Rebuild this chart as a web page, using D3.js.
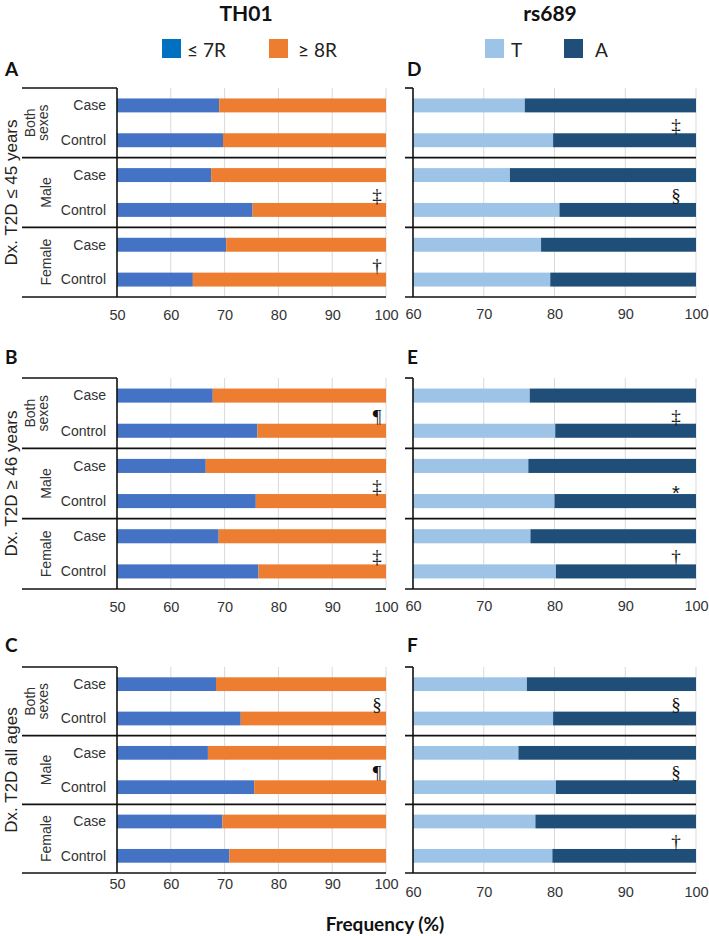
<!DOCTYPE html>
<html><head><meta charset="utf-8">
<script src="https://cdn.jsdelivr.net/npm/d3@7"></script>
<style>body{margin:0;background:#fff}</style>
</head><body>
<svg id="c" width="709" height="936"></svg>
<script>
// ---------- data ----------
const groups = ["Both sexes", "Male", "Female"];
const categories = ["Case", "Control"];
const th01Keys = ["≤ 7R", "≥ 8R"];
const rs689Keys = ["T", "A"];
const th01Ticks = [50, 60, 70, 80, 90, 100];
const rs689Ticks = [60, 70, 80, 90, 100];
const ageLabels = ["Dx. T2D ≤ 45 years", "Dx. T2D ≥ 46 years", "Dx. T2D all ages"];
const panelLetters = ["A", "B", "C", "D", "E", "F"];
const geneTitles = ["TH01", "rs689"];
const axisTitle = "Frequency (%)";

// rows: Both Case, Both Control, Male Case, Male Control, Female Case, Female Control
const A_le7 = [69.0, 69.7, 67.5, 75.2, 70.3, 64.1];
const A_ge8 = [31.0, 30.3, 32.5, 24.8, 29.7, 35.9];
const B_le7 = [67.8, 76.1, 66.5, 75.8, 68.9, 76.3];
const B_ge8 = [32.2, 23.9, 33.5, 24.2, 31.1, 23.7];
const C_le7 = [68.4, 73.0, 66.9, 75.5, 69.6, 70.9];
const C_ge8 = [31.6, 27.0, 33.1, 24.5, 30.4, 29.1];
const D_T = [75.8, 79.8, 73.7, 80.7, 78.1, 79.4];
const D_A = [24.2, 20.2, 26.3, 19.3, 21.9, 20.6];
const E_T = [76.5, 80.1, 76.3, 80.0, 76.6, 80.2];
const E_A = [23.5, 19.9, 23.7, 20.0, 23.4, 19.8];
const F_T = [76.1, 79.8, 74.9, 80.2, 77.3, 79.7];
const F_A = [23.9, 20.2, 25.1, 19.8, 22.7, 20.3];

// significance marks per group (Both sexes, Male, Female)
const A_sig = ["", "‡", "†"];
const B_sig = ["¶", "‡", "‡"];
const C_sig = ["§", "¶", ""];
const D_sig = ["‡", "§", ""];
const E_sig = ["‡", "*", "†"];
const F_sig = ["§", "§", "†"];

// ---------- styles / layout ----------
const th01Colors = ["#4472C4", "#ED7D31"];
const th01LegendColors = ["#0070C0", "#ED7D31"];
const rs689Colors = ["#9DC3E6", "#1F4E79"];
const SANS = "'Liberation Sans', Arial, sans-serif";
const TITLE = "Lato, 'Open Sans', sans-serif";
const SERIF = "'Liberation Serif', 'Times New Roman', serif";

const svg = d3.select("#c");

const rowsY = [[88, 297], [378, 589], [667, 873]];
const leftX = { x0: 117, x1: 386, frame: 22, sigOff: 9 };
const rightX = { x0: 413, x1: 696, frame: 405, sigOff: 20 };
const labelOff = [[18, 18, 11], [17, 17, 19]];

function panel(opts) {
  const { le, ri, sig, keys, colors, ticks, side, rowIdx, letter, showLabels } = opts;
  const X = side === 0 ? leftX : rightX;
  const [top, bottom] = rowsY[rowIdx];
  const g = svg.append("g");
  const x = d3.scaleLinear().domain([ticks[0], ticks[ticks.length - 1]]).range([X.x0, X.x1]).clamp(true);
  const rowIds = d3.range(6);
  const y = d3.scaleBand().domain(rowIds).range([top, bottom]).paddingInner(0.6).paddingOuter(0.3);
  const rows = rowIds.map(i => ({ id: i, [keys[0]]: le[i], [keys[1]]: ri[i] }));
  const stack = d3.stack().keys(keys)(rows);

  // gridlines
  g.append("g").selectAll("line").data(ticks.slice(1)).join("line")
    .attr("x1", d => x(d)).attr("x2", d => x(d))
    .attr("y1", top).attr("y2", bottom)
    .attr("stroke", "#d9d9d9").attr("stroke-width", 1);

  // bars
  g.append("g").selectAll("g").data(stack).join("g")
    .attr("fill", (d, i) => colors[i])
    .selectAll("rect").data(d => d).join("rect")
    .attr("x", d => x(d[0]))
    .attr("width", d => x(d[1]) - x(d[0]))
    .attr("y", d => y(d.data.id))
    .attr("height", y.bandwidth());

  // frame lines
  const groupH = (bottom - top) / 3;
  const lines = g.append("g").attr("stroke", "#111").attr("stroke-width", 1.6);
  lines.append("line").attr("x1", X.x0).attr("x2", X.x0).attr("y1", top).attr("y2", bottom);
  lines.append("line").attr("x1", X.frame).attr("x2", X.x0).attr("y1", top).attr("y2", top);
  [1, 2, 3].forEach(k => {
    const yy = top + groupH * k;
    lines.append("line").attr("x1", X.frame).attr("x2", X.x1).attr("y1", yy).attr("y2", yy);
  });

  // axis (tick labels only)
  const axis = d3.axisBottom(x).tickValues(ticks).tickSize(0).tickPadding(0).tickFormat(d3.format("d"));
  const ax = g.append("g").attr("transform", `translate(0,${bottom + labelOff[side][rowIdx]})`).call(axis);
  ax.select(".domain").remove();
  ax.selectAll("text").attr("font-family", SANS).attr("font-size", 14.5).attr("fill", "#333")
    .attr("dy", "0.35em");

  // significance marks
  g.append("g").selectAll("text").data(sig).join("text")
    .attr("x", X.x1 - X.sigOff)
    .attr("y", (d, i) => y(i * 2 + 1) - (d === "*" ? -6 : 1))
    .attr("text-anchor", "middle")
    .attr("font-family", d => d === "*" ? SANS : SERIF)
    .attr("font-size", d => d === "*" ? 20 : 19)
    .attr("fill", "#111")
    .text(d => d);

  // panel letter
  svg.append("text").attr("x", side === 0 ? 5 : 407).attr("y", [76, 364, 652][rowIdx])
    .attr("font-family", TITLE).attr("font-weight", "bold").attr("font-size", 19).attr("fill", "#111")
    .text(letter);

  if (showLabels) {
    // Case / Control labels
    g.append("g").selectAll("text").data(rowIds).join("text")
      .attr("x", 106).attr("y", d => y(d) + y.bandwidth() / 2).attr("dy", "0.35em")
      .attr("text-anchor", "end").attr("font-family", SANS).attr("font-size", 14).attr("fill", "#333")
      .text(d => categories[d % 2]);
    // group labels
    groups.forEach((gr, k) => {
      const cy = top + groupH * (k + 0.5);
      const words = gr.split(" ");
      const t = g.append("text").attr("transform", `translate(0,${cy}) rotate(-90)`)
        .attr("text-anchor", "middle").attr("font-family", SANS).attr("font-size", 14).attr("fill", "#333");
      if (words.length === 2) {
        t.append("tspan").attr("x", 0).attr("y", 35).text(words[0]);
        t.append("tspan").attr("x", 0).attr("y", 48).text(words[1]);
      } else {
        t.append("tspan").attr("x", 0).attr("y", 51).text(gr);
      }
    });
    // age label
    g.append("text").attr("transform", `translate(16.5,${(top + bottom) / 2}) rotate(-90)`)
      .attr("text-anchor", "middle").attr("font-family", SANS).attr("font-size", 17).attr("fill", "#222")
      .text(ageLabels[rowIdx]);
  }
}

const leftData = [[A_le7, A_ge8, A_sig], [B_le7, B_ge8, B_sig], [C_le7, C_ge8, C_sig]];
const rightData = [[D_T, D_A, D_sig], [E_T, E_A, E_sig], [F_T, F_A, F_sig]];
leftData.forEach((d, i) => panel({ le: d[0], ri: d[1], sig: d[2], keys: th01Keys, colors: th01Colors,
  ticks: th01Ticks, side: 0, rowIdx: i, letter: panelLetters[i], showLabels: true }));
rightData.forEach((d, i) => panel({ le: d[0], ri: d[1], sig: d[2], keys: rs689Keys, colors: rs689Colors,
  ticks: rs689Ticks, side: 1, rowIdx: i, letter: panelLetters[i + 3], showLabels: false }));

// titles
svg.selectAll(".gt").data(geneTitles).join("text").attr("class", "gt")
  .attr("x", (d, i) => [246, 550][i]).attr("y", 21).attr("text-anchor", "middle")
  .attr("font-family", TITLE).attr("font-weight", "bold").attr("font-size", 21).attr("fill", "#111")
  .text(d => d);

// legends
const legendItems = [
  { key: th01Keys[0], color: th01LegendColors[0], x: 162 },
  { key: th01Keys[1], color: th01LegendColors[1], x: 269 },
  { key: rs689Keys[0], color: rs689Colors[0], x: 485 },
  { key: rs689Keys[1], color: rs689Colors[1], x: 564 }
];
const lg = svg.append("g").selectAll("g").data(legendItems).join("g")
  .attr("transform", d => `translate(${d.x},39)`);
lg.append("rect").attr("width", 19).attr("height", 19).attr("fill", d => d.color);
lg.append("text").attr("x", (d, i) => [25, 29, 26, 31][i]).attr("y", 17.5)
  .attr("font-family", TITLE).attr("font-size", 19).attr("fill", "#222").text(d => d.key);

// axis title
svg.append("text").attr("x", 385).attr("y", 931).attr("text-anchor", "middle")
  .attr("font-family", TITLE).attr("font-weight", "bold").attr("font-size", 19).attr("fill", "#111")
  .text(axisTitle);
</script>
</body></html>
